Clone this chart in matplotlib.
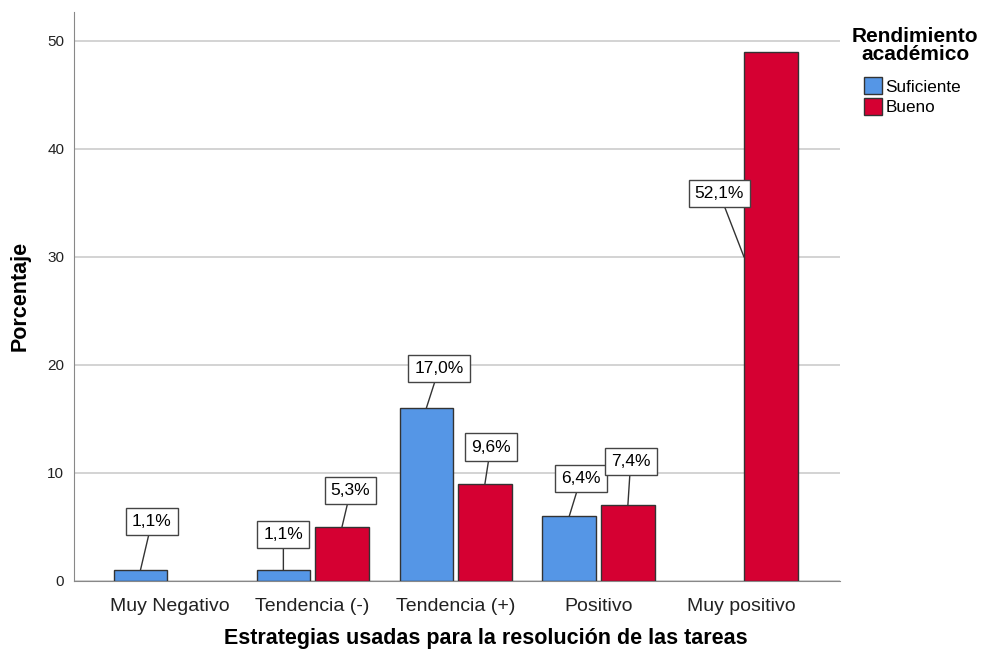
import numpy as np
import matplotlib.pyplot as plt
from matplotlib.patches import Patch

plt.rcParams['font.family'] = ['Liberation Sans', 'DejaVu Sans']

# Datos
categorias = ['Muy Negativo', 'Tendencia (-)', 'Tendencia (+)', 'Positivo', 'Muy positivo']
suficiente = [1, 1, 16, 6, 0]
bueno = [0, 5, 9, 7, 49]
etiquetas_suf = ['1,1%', '1,1%', '17,0%', '6,4%', None]
etiquetas_bue = [None, '5,3%', '9,6%', '7,4%', '52,1%']

# posiciones de las cajas de etiqueta (dx respecto a la barra, y)
caja_suf = [(0.08, 5.5), (0.0, 4.3), (0.09, 19.7), (0.08, 9.45), None]
caja_bue = [None, (0.06, 8.35), (0.04, 12.4), (0.02, 11.1), (-0.36, 35.9)]

color_suf = '#5596E6'
color_bue = '#D50032'
ancho = 0.375
desp = 0.205

fig = plt.figure(figsize=(9.81, 6.55), dpi=100)
ax = fig.add_axes([0.0754, 0.113, 0.781, 0.869])

x = np.arange(len(categorias))
b1 = ax.bar(x - desp, suficiente, ancho, color=color_suf, edgecolor='#333333', linewidth=1, zorder=3)
b2 = ax.bar(x + desp, bueno, ancho, color=color_bue, edgecolor='#333333', linewidth=1, zorder=3)
for p in list(b1) + list(b2):
    if p.get_height() == 0:
        p.set_visible(False)

caja = dict(boxstyle='square,pad=0.35', fc='white', ec='#444444', lw=1)
flecha = dict(arrowstyle='-', color='#333333', lw=1, shrinkA=0, shrinkB=0)

for i in range(len(categorias)):
    if etiquetas_suf[i]:
        dx, yy = caja_suf[i]
        xb = x[i] - desp
        ax.annotate(etiquetas_suf[i], xy=(xb, suficiente[i]), xytext=(xb + dx, yy),
                    ha='center', va='center', fontsize=12.5, bbox=caja,
                    arrowprops=flecha, zorder=5)
    if etiquetas_bue[i]:
        dx, yy = caja_bue[i]
        xb = x[i] + desp
        punto = (xb, bueno[i])
        if i == 4:
            punto = (xb - ancho / 2, 30)
        ax.annotate(etiquetas_bue[i], xy=punto, xytext=(xb + dx, yy),
                    ha='center', va='center', fontsize=12.5, bbox=caja,
                    arrowprops=flecha, zorder=5)

ax.set_xlim(-0.67, 4.69)
ax.set_ylim(0, 52.7)
ax.set_yticks([0, 10, 20, 30, 40, 50])
ax.set_xticks(x)
ax.set_xticklabels(categorias, fontsize=14, color='#222222')
ax.tick_params(axis='y', labelsize=11, length=0, pad=7, colors='#222222')
ax.tick_params(axis='x', length=0, pad=12)
ax.yaxis.grid(True, color='#CCCCCC', lw=1.2, zorder=0)
ax.set_axisbelow(True)

for s in ['top', 'right']:
    ax.spines[s].set_visible(False)
ax.spines['left'].set_color('#888888')
ax.spines['bottom'].set_color('#888888')

fig.text(486 / 981, 0.025, 'Estrategias usadas para la resolución de las tareas',
         ha='center', va='center', fontsize=15.5, fontweight='bold')
ax.set_ylabel('Porcentaje', fontsize=15.5, fontweight='bold', labelpad=12)

# Leyenda
fig.text(0.933, 0.931, 'Rendimiento\nacadémico', ha='center', va='center',
         fontsize=15, fontweight='bold', linespacing=0.95)
manejadores = [Patch(facecolor=color_suf, edgecolor='#333333', label='Suficiente'),
               Patch(facecolor=color_bue, edgecolor='#333333', label='Bueno')]
fig.legend(handles=manejadores, loc='upper left', bbox_to_anchor=(0.881, 0.882),
           frameon=False, fontsize=12.3, handlelength=1.05, handleheight=1.15,
           handletextpad=0.2, labelspacing=0.2, borderaxespad=0, borderpad=0)

fig.savefig('out.png', dpi=100)
